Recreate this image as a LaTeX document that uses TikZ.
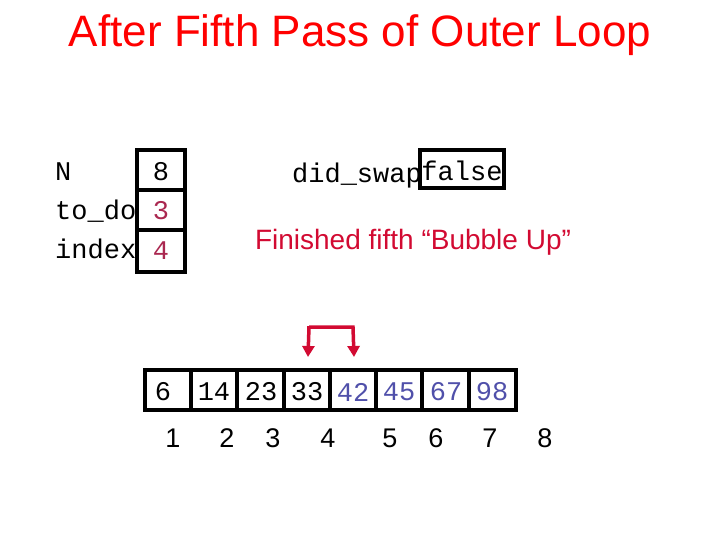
\documentclass[tikz,border=0pt]{standalone}
\usepackage{fontspec}
\usetikzlibrary{arrows.meta}
\setmainfont{Liberation Sans}
\newfontfamily\monof{Liberation Mono}
\definecolor{crim}{RGB}{210,10,50}
\definecolor{bluenum}{RGB}{80,80,170}
\definecolor{rednum}{RGB}{170,40,80}
\begin{document}
\begin{tikzpicture}[x=1pt,y=-1pt,
  box/.style={draw=black,line width=4pt},
  mono/.style={font=\monof\fontsize{27}{27}\selectfont,inner sep=0pt},
  idx/.style={font=\fontsize{27}{27}\selectfont,inner sep=0pt},
  arr/.style={draw=crim,line width=3.5pt,-{Triangle[length=11pt,width=12pt]}}]
\useasboundingbox (0,0) rectangle (720,540);
\node[text=red,font=\fontsize{44}{44}\selectfont] (title) at (360,35) {After Fifth Pass of Outer Loop};
% variable boxes
\draw[box] (137,150) rectangle (185,272);
\draw[box] (137,190) -- (185,190);
\draw[box] (137,230) -- (185,230);
\node[mono,anchor=west] (lN) at (55,172) {N};
\node[mono,anchor=west] (ltd) at (55,211) {to\_do};
\node[mono,anchor=west] (lix) at (55,249) {index};
\node[mono] (vN) at (161,172) {8};
\node[mono,text=rednum] (vtd) at (161,211) {3};
\node[mono,text=rednum] (vix) at (161,251) {4};
\draw[box] (420,150) rectangle (504,188);
\node[mono,anchor=east] (ds) at (422,176) {did\_swap};
\node[mono] (fa) at (462,171) {false};
\node[text=crim,font=\fontsize{28}{28}\selectfont] (fin) at (413,242) {Finished fifth “Bubble Up”};
% array
\draw[box] (145,370) rectangle (516,410);
\foreach \x in {191,237,284,330,376,422,469} \draw[box] (\x,370) -- (\x,410);
\foreach \x/\v/\c [count=\i] in {163/6/black,214/14/black,261/23/black,307/33/black,353/42/bluenum,399/45/bluenum,446/67/bluenum,492/98/bluenum}
  \node[mono,text=\c] (c\i) at (\x,392) {\v};
\foreach \x/\v in {173/1,227/2,273/3,328/4,390/5,436/6,490/7,545/8}
  \node[idx] (i\v) at (\x,438) {\v};
\coordinate (a1) at (308,357);
\coordinate (a2) at (354,357);
\draw[arr] (309,327) -- (a1);
\draw[arr] (309,327) -- (353,327) -- (a2);
\draw[draw=crim,line width=3.5pt] (309,328.7) -- (309,326);
\end{tikzpicture}
\end{document}
